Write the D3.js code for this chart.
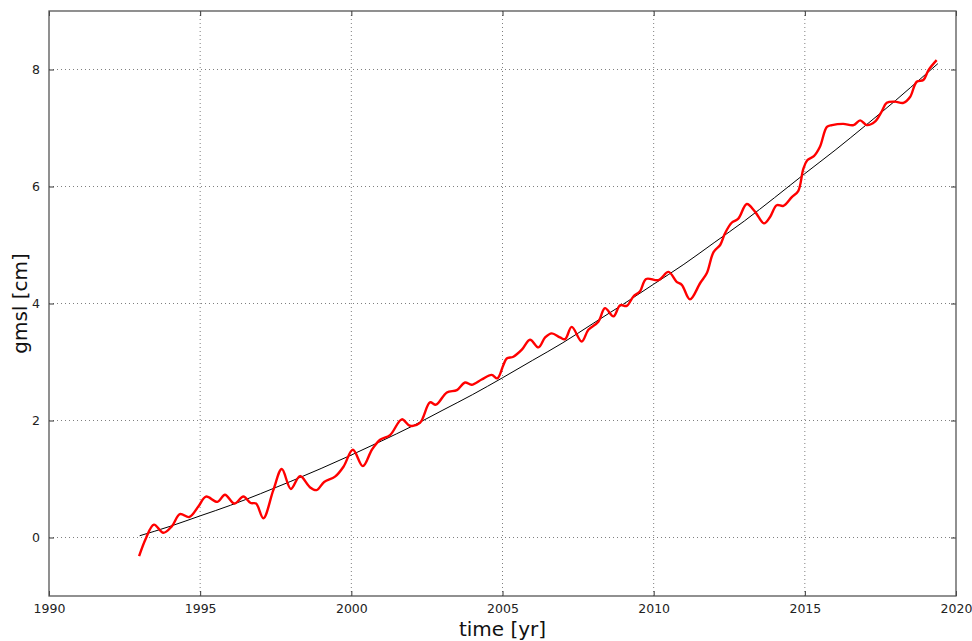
<!DOCTYPE html>
<html>
<head>
<meta charset="utf-8">
<script src="https://cdn.jsdelivr.net/npm/d3@7"></script>
<style>
  body { margin: 0; background: #fff; }
  text { font-family: "DejaVu Sans", sans-serif; }
  .grid line { stroke: #7f7f7f; stroke-dasharray: 1,3; stroke-width: 1; }
</style>
</head>
<body>
<svg id="chart" width="972" height="641"></svg>
<script>
// gmsl series (year, cm)
const years = [1992.98, 1993.2, 1993.47, 1993.78, 1994.06, 1994.33, 1994.64, 1994.94, 1995.19, 1995.57,
  1995.82, 1996.13, 1996.43, 1996.67, 1996.85, 1997.09, 1997.42, 1997.7, 1998.0, 1998.3,
  1998.63, 1998.85, 1999.1, 1999.46, 1999.74, 2000.05, 2000.38, 2000.68, 2000.95, 2001.28,
  2001.67, 2001.94, 2002.27, 2002.6, 2002.8, 2003.16, 2003.49, 2003.76, 2003.98, 2004.31,
  2004.64, 2004.83, 2005.03, 2005.14, 2005.36, 2005.64, 2005.91, 2006.19, 2006.41, 2006.63,
  2006.9, 2007.07, 2007.29, 2007.62, 2007.84, 2008.17, 2008.39, 2008.67, 2008.89, 2009.11,
  2009.33, 2009.55, 2009.75, 2010.16, 2010.49, 2010.76, 2010.93, 2011.2, 2011.54, 2011.76,
  2011.98, 2012.2, 2012.36, 2012.58, 2012.8, 2013.08, 2013.35, 2013.65, 2013.85, 2014.07,
  2014.29, 2014.57, 2014.78, 2014.95, 2015.08, 2015.3, 2015.5, 2015.73, 2015.9, 2016.27,
  2016.61, 2016.83, 2017.05, 2017.32, 2017.54, 2017.71, 2017.98, 2018.26, 2018.48, 2018.7,
  2018.92, 2019.09, 2019.36];
const gmsl = [-0.32, -0.02, 0.22, 0.08, 0.19, 0.40, 0.35, 0.53, 0.70, 0.61,
  0.73, 0.58, 0.70, 0.59, 0.58, 0.33, 0.81, 1.17, 0.83, 1.05,
  0.86, 0.81, 0.95, 1.04, 1.21, 1.50, 1.22, 1.50, 1.67, 1.75,
  2.02, 1.91, 1.96, 2.31, 2.27, 2.48, 2.52, 2.65, 2.61, 2.70,
  2.78, 2.72, 2.95, 3.06, 3.09, 3.21, 3.38, 3.25, 3.42, 3.49,
  3.42, 3.39, 3.60, 3.35, 3.55, 3.69, 3.92, 3.78, 3.97, 3.96,
  4.12, 4.21, 4.42, 4.40, 4.54, 4.37, 4.32, 4.07, 4.35, 4.52,
  4.88, 5.00, 5.20, 5.38, 5.45, 5.70, 5.57, 5.37, 5.48, 5.68,
  5.67, 5.82, 5.92, 6.30, 6.45, 6.52, 6.68, 7.02, 7.05, 7.07,
  7.05, 7.13, 7.05, 7.11, 7.28, 7.43, 7.45, 7.43, 7.53, 7.79,
  7.82, 7.99, 8.16];

const fitYears = [1993, 1994, 1995, 1996, 1997, 1998, 1999, 2000, 2001, 2002, 2003, 2004, 2005, 2006,
  2007, 2008, 2009, 2010, 2011, 2012, 2013, 2014, 2015, 2016, 2017, 2018, 2019, 2019.4];
const fitVals = [0.03, 0.19, 0.37, 0.55, 0.75, 0.96, 1.18, 1.41, 1.65, 1.90, 2.17, 2.44, 2.73, 3.03,
  3.33, 3.66, 3.99, 4.33, 4.67, 5.04, 5.41, 5.81, 6.22, 6.62, 7.04, 7.47, 7.92, 8.10];

const xTicks = [1990, 1995, 2000, 2005, 2010, 2015, 2020];
const yTicks = [0, 2, 4, 6, 8];

const margin = { top: 11, right: 16, bottom: 45, left: 49 };
const width = 972 - margin.left - margin.right;
const height = 641 - margin.top - margin.bottom;

const svg = d3.select('#chart');
const g = svg.append('g').attr('transform', `translate(${margin.left},${margin.top})`);

const x = d3.scaleLinear().domain([1990, 2020]).range([0, width]);
const y = d3.scaleLinear().domain([-1, 9]).range([height, 0]);

// grid
g.append('g').attr('class', 'grid')
  .selectAll('line').data(xTicks.slice(1, -1)).enter().append('line')
  .attr('x1', d => x(d)).attr('x2', d => x(d)).attr('y1', 0).attr('y2', height);
g.append('g').attr('class', 'grid')
  .selectAll('line').data(yTicks).enter().append('line')
  .attr('x1', 0).attr('x2', width).attr('y1', d => y(d)).attr('y2', d => y(d));

// lines
const red = years.map((d, i) => [d, gmsl[i]]);
const fit = fitYears.map((d, i) => [d, fitVals[i]]);

g.append('path').datum(fit)
  .attr('fill', 'none').attr('stroke', '#000').attr('stroke-width', 1)
  .attr('d', d3.line().x(d => x(d[0])).y(d => y(d[1])).curve(d3.curveMonotoneX));

g.append('path').datum(red)
  .attr('fill', 'none').attr('stroke', '#ff0000').attr('stroke-width', 2.4)
  .attr('stroke-linejoin', 'round')
  .attr('d', d3.line().x(d => x(d[0])).y(d => y(d[1])).curve(d3.curveCatmullRom.alpha(0.5)));

// axes, ticks pointing inward like the original
const xAxis = d3.axisBottom(x).tickValues(xTicks).tickFormat(d3.format('d')).tickSizeInner(-5).tickSizeOuter(0).tickPadding(8);
const yAxis = d3.axisLeft(y).tickValues(yTicks).tickSizeInner(-5).tickSizeOuter(0).tickPadding(9);

const xa = g.append('g').attr('transform', `translate(0,${height})`).call(xAxis);
const ya = g.append('g').call(yAxis);
g.append('g').call(d3.axisTop(x).tickValues(xTicks).tickSizeInner(-5).tickSizeOuter(0).tickFormat(''));
g.append('g').attr('transform', `translate(${width},0)`)
  .call(d3.axisRight(y).tickValues(yTicks).tickSizeInner(-5).tickSizeOuter(0).tickFormat(''));

g.selectAll('.domain').remove();
g.selectAll('.tick line').attr('stroke', '#333');
[xa, ya].forEach(a => a.selectAll('text').attr('font-size', 12.5).attr('fill', '#222')
  .style('font-family', '"DejaVu Sans", sans-serif'));

// frame
g.append('rect').attr('width', width).attr('height', height)
  .attr('fill', 'none').attr('stroke', '#555').attr('stroke-width', 1.3);

// labels
svg.append('text').attr('x', margin.left + width / 2).attr('y', 636)
  .attr('text-anchor', 'middle').attr('font-size', 20).attr('fill', '#111')
  .text('time [yr]');
svg.append('text').attr('transform', `translate(27,${margin.top + height / 2}) rotate(-90)`)
  .attr('text-anchor', 'middle').attr('font-size', 20).attr('fill', '#111')
  .text('gmsl [cm]');
</script>
</body>
</html>
